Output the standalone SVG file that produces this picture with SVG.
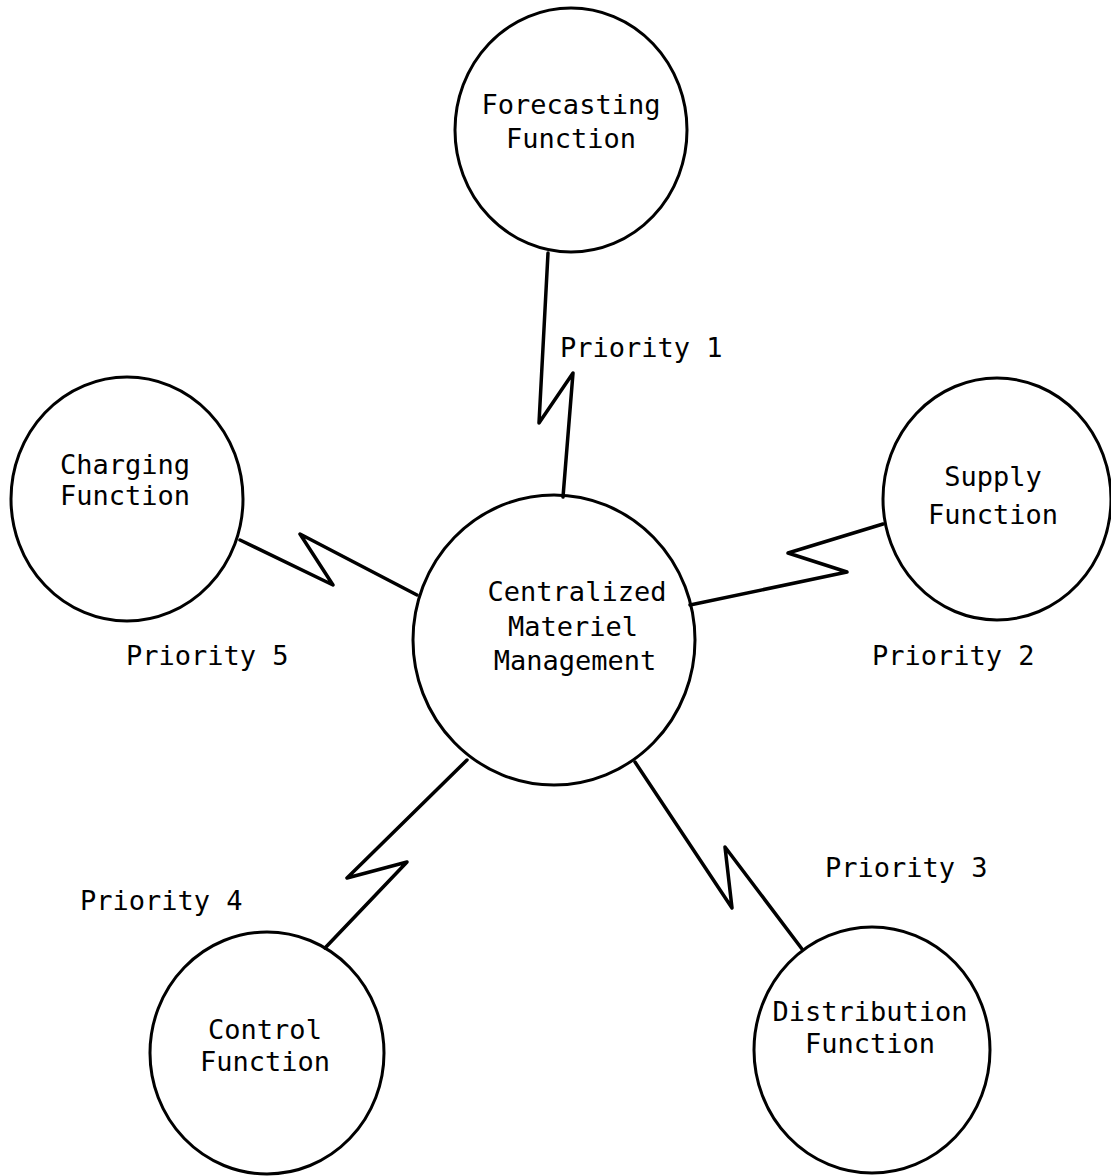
<svg xmlns="http://www.w3.org/2000/svg" width="1111" height="1176" viewBox="0 0 1111 1176">
<style>
.node{fill:none;stroke:#000;stroke-width:3}
.conn{fill:none;stroke:#000;stroke-width:3.5;stroke-linejoin:round;stroke-linecap:round}
text{font-family:"DejaVu Sans Mono","Liberation Mono",monospace;font-size:27px;fill:#000}
.c{text-anchor:middle}
</style>
<rect width="1111" height="1176" fill="#fff"/>
<g id="connectors">
<polyline class="conn" points="548,253 539,423 573,373 563,497"/>
<polyline class="conn" points="240,540 333,585 300,534 417,595"/>
<polyline class="conn" points="690,605 847,572 788,553 883,524"/>
<polyline class="conn" points="467,760 347,878 407,862 325,948"/>
<polyline class="conn" points="635,762 732,908 725,847 802,949"/>
</g>
<g id="forecasting">
<ellipse class="node" cx="571" cy="130" rx="116" ry="122"/>
<text class="c" x="571" y="114">Forecasting</text>
<text class="c" x="571" y="148">Function</text>
</g>
<g id="charging">
<ellipse class="node" cx="127" cy="499" rx="116" ry="122"/>
<text class="c" x="125" y="474">Charging</text>
<text class="c" x="125" y="505">Function</text>
</g>
<g id="central">
<ellipse class="node" cx="554" cy="640" rx="141" ry="145"/>
<text class="c" x="577" y="601">Centralized</text>
<text class="c" x="573" y="636">Materiel</text>
<text class="c" x="575" y="670">Management</text>
</g>
<g id="supply">
<ellipse class="node" cx="997" cy="499" rx="114" ry="121"/>
<text class="c" x="993" y="486">Supply</text>
<text class="c" x="993" y="524">Function</text>
</g>
<g id="control">
<ellipse class="node" cx="267" cy="1053" rx="117" ry="121"/>
<text class="c" x="265" y="1039">Control</text>
<text class="c" x="265" y="1071">Function</text>
</g>
<g id="distribution">
<ellipse class="node" cx="872" cy="1050" rx="118" ry="123"/>
<text class="c" x="870" y="1021">Distribution</text>
<text class="c" x="870" y="1053">Function</text>
</g>
<g id="labels">
<text x="560" y="357">Priority 1</text>
<text x="872" y="665">Priority 2</text>
<text x="825" y="877">Priority 3</text>
<text x="80" y="910">Priority 4</text>
<text x="126" y="665">Priority 5</text>
</g>
</svg>
